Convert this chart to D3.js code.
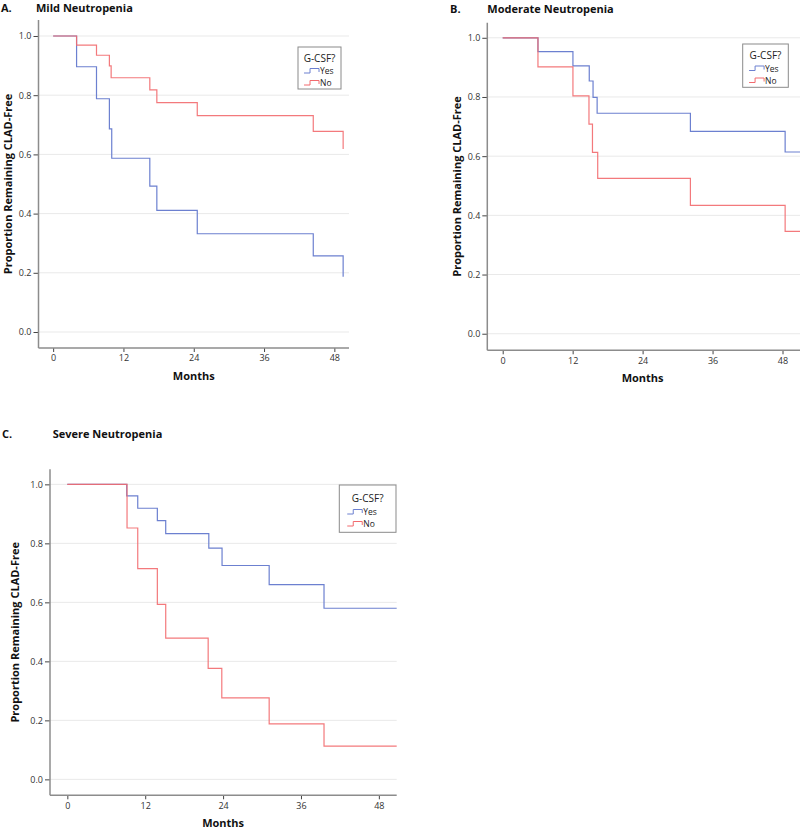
<!DOCTYPE html>
<html>
<head>
<meta charset="utf-8">
<script src="https://cdn.jsdelivr.net/npm/d3@7"></script>
<style>
  html, body { margin: 0; padding: 0; background: #fff; }
  svg { display: block; }
  text { font-family: "Open Sans", "Noto Sans", sans-serif; }
</style>
</head>
<body>
<svg id="chart" width="800" height="832"></svg>
<script>
// ---------------- data ----------------
const panelLetters = ["A.", "B.", "C."];
const panelTitles = ["Mild Neutropenia", "Moderate Neutropenia", "Severe Neutropenia"];
const legendTitle = "G-CSF?";
const seriesNames = ["Yes", "No"];
const xTicks = [0, 12, 24, 36, 48];
const yTicks = [0, 0.2, 0.4, 0.6, 0.8, 1.0];
const xLabel = "Months";
const yLabel = "Proportion Remaining CLAD-Free";

// Mild neutropenia (A)
const mildYesTime = [0, 4.0, 7.4, 9.6, 10.0, 16.5, 17.7, 24.6, 44.4, 49.5];
const mildYesSurv = [1, 0.896, 0.788, 0.686, 0.587, 0.493, 0.411, 0.332, 0.257, 0.187];
const mildNoTime  = [0, 4.0, 7.4, 9.6, 9.9, 16.5, 17.7, 24.6, 44.4, 49.5];
const mildNoSurv  = [1, 0.969, 0.935, 0.899, 0.859, 0.818, 0.775, 0.731, 0.678, 0.618];

// Moderate neutropenia (B)
const modYesTime = [0, 6.05, 12.05, 14.85, 15.5, 16.2, 32.2, 48.45, 51];
const modYesSurv = [1, 0.953, 0.905, 0.854, 0.799, 0.745, 0.684, 0.614, 0.614];
const modNoTime  = [0, 6.05, 12.05, 14.8, 15.4, 16.3, 32.2, 48.45, 51];
const modNoSurv  = [1, 0.902, 0.804, 0.708, 0.613, 0.525, 0.434, 0.346, 0.346];

// Severe neutropenia (C)
const sevYesTime = [0, 9.15, 10.85, 13.87, 15.16, 21.8, 23.84, 31.1, 39.55, 50.75];
const sevYesSurv = [1, 0.961, 0.919, 0.877, 0.833, 0.784, 0.725, 0.66, 0.58, 0.58];
const sevNoTime  = [0, 9.2, 10.85, 13.87, 15.16, 21.7, 23.8, 31.1, 39.55, 50.75];
const sevNoSurv  = [1, 0.852, 0.714, 0.593, 0.479, 0.376, 0.276, 0.188, 0.113, 0.113];

// ---------------- layout / style ----------------
const colors = { Yes: "#6c80d0", No: "#f26a6e" };

const panels = [
  { letter: panelLetters[0], title: panelTitles[0],
    series: [ {name: "Yes", t: mildYesTime, s: mildYesSurv}, {name: "No", t: mildNoTime, s: mildNoSurv} ],
    x0: 38.5, x1: 349, y0: 20, y1: 348, xMin: -2.5, xMax: 50.5, yMin: -0.054, yMax: 1.054,
    letterX: 1, titleX: 36, titleY: 12, yLabelX: 8,
    legend: { x: 298, y: 47, w: 43, h: 42, tb: 14.5, rows: [27, 39] } },
  { letter: panelLetters[1], title: panelTitles[1],
    series: [ {name: "Yes", t: modYesTime, s: modYesSurv}, {name: "No", t: modNoTime, s: modNoSurv} ],
    x0: 487.3, x1: 800, y0: 22.7, y1: 350.3, xMin: -2.64, xMax: 51, yMin: -0.056, yMax: 1.051,
    letterX: 450, titleX: 487.3, titleY: 12.5, yLabelX: 457,
    legend: { x: 742.7, y: 44, w: 45.6, h: 43.3, tb: 15, rows: [27.5, 39.5] } },
  { letter: panelLetters[2], title: panelTitles[2],
    series: [ {name: "Yes", t: sevYesTime, s: sevYesSurv}, {name: "No", t: sevNoTime, s: sevNoSurv} ],
    x0: 50, x1: 396.7, y0: 469.3, y1: 795.3, xMin: -2.67, xMax: 50.75, yMin: -0.054, yMax: 1.051,
    letterX: 2, titleX: 52.7, titleY: 438, yLabelX: 15,
    legend: { x: 339.3, y: 485, w: 56.7, h: 47.3, tb: 17, rows: [30, 42] } }
];

const svg = d3.select("#chart");

panels.forEach(p => {
  const g = svg.append("g");
  const x = d3.scaleLinear().domain([p.xMin, p.xMax]).range([p.x0, p.x1]);
  const y = d3.scaleLinear().domain([p.yMin, p.yMax]).range([p.y1, p.y0]);

  // titles
  g.append("text").attr("x", p.letterX).attr("y", p.titleY)
    .attr("font-size", 11).attr("font-weight", 700).attr("fill", "#111").text(p.letter);
  g.append("text").attr("x", p.titleX).attr("y", p.titleY)
    .attr("font-size", 11).attr("font-weight", 700).attr("fill", "#111").text(p.title);

  // gridlines
  g.append("g").selectAll("line").data(yTicks).join("line")
    .attr("x1", p.x0).attr("x2", p.x1)
    .attr("y1", d => y(d)).attr("y2", d => y(d))
    .attr("stroke", "#e9e9e9").attr("stroke-width", 1);

  // y axis
  const yAxis = d3.axisLeft(y).tickValues(yTicks).tickFormat(d3.format(".1f"))
    .tickSize(5).tickPadding(2);
  const ya = g.append("g").attr("transform", `translate(${p.x0},0)`).call(yAxis);
  ya.select(".domain").remove();
  ya.selectAll(".tick line").attr("stroke", "#444");
  ya.selectAll(".tick text").attr("font-size", 9).attr("fill", "#333")
    .attr("font-family", "'Open Sans', sans-serif");
  g.append("line").attr("x1", p.x0).attr("x2", p.x0).attr("y1", p.y0).attr("y2", p.y1)
    .attr("stroke", "#8c8c8c").attr("stroke-width", 1.5);

  // x axis
  const xAxis = d3.axisBottom(x).tickValues(xTicks).tickFormat(d3.format("d"))
    .tickSize(4).tickPadding(3);
  const xa = g.append("g").attr("transform", `translate(0,${p.y1})`).call(xAxis);
  xa.select(".domain").remove();
  xa.selectAll(".tick line").attr("stroke", "#444");
  xa.selectAll(".tick text").attr("font-size", 9).attr("fill", "#333")
    .attr("font-family", "'Open Sans', sans-serif");
  g.append("line").attr("x1", p.x0).attr("x2", p.x1).attr("y1", p.y1).attr("y2", p.y1)
    .attr("stroke", "#8c8c8c").attr("stroke-width", 1.5);

  // axis labels
  g.append("text").attr("x", x(24)).attr("y", p.y1 + 32)
    .attr("text-anchor", "middle").attr("font-size", 11).attr("font-weight", 700)
    .attr("fill", "#111").text(xLabel);
  g.append("text")
    .attr("transform", `translate(${p.yLabelX + 4},${(p.y0 + p.y1) / 2}) rotate(-90)`)
    .attr("text-anchor", "middle").attr("font-size", 11).attr("font-weight", 700)
    .attr("fill", "#111").text(yLabel);

  // survival curves
  const line = d3.line().x(d => x(d[0])).y(d => y(d[1])).curve(d3.curveStepAfter);
  p.series.forEach(sr => {
    const pts = sr.t.map((t, i) => [t, sr.s[i]]);
    g.append("path").datum(pts).attr("d", line)
      .attr("fill", "none").attr("stroke", colors[sr.name]).attr("stroke-width", 1.2)
      .attr("opacity", sr.name === "No" ? 0.9 : 1);
  });

  // legend
  const L = p.legend;
  const lg = g.append("g").attr("transform", `translate(${L.x},${L.y})`);
  lg.append("rect").attr("width", L.w).attr("height", L.h)
    .attr("fill", "#fff").attr("stroke", "#8a8a8a").attr("stroke-width", 1);
  lg.append("text").attr("x", L.w / 2).attr("y", L.tb)
    .attr("text-anchor", "middle").attr("font-size", 10).attr("fill", "#222").text(legendTitle);
  seriesNames.forEach((nm, i) => {
    const base = L.rows[i];
    const cy = base - 3;
    const ix = L.w * 0.14;
    lg.append("path")
      .attr("d", `M${ix},${cy + 2} H${ix + 6} V${cy - 2.5} H${ix + 15} V${cy + 1}`)
      .attr("fill", "none").attr("stroke", colors[nm]).attr("stroke-width", 1);
    lg.append("text").attr("x", ix + 16).attr("y", base)
      .attr("font-size", 8.5).attr("fill", "#222").text(nm);
  });
});
</script>
</body>
</html>
